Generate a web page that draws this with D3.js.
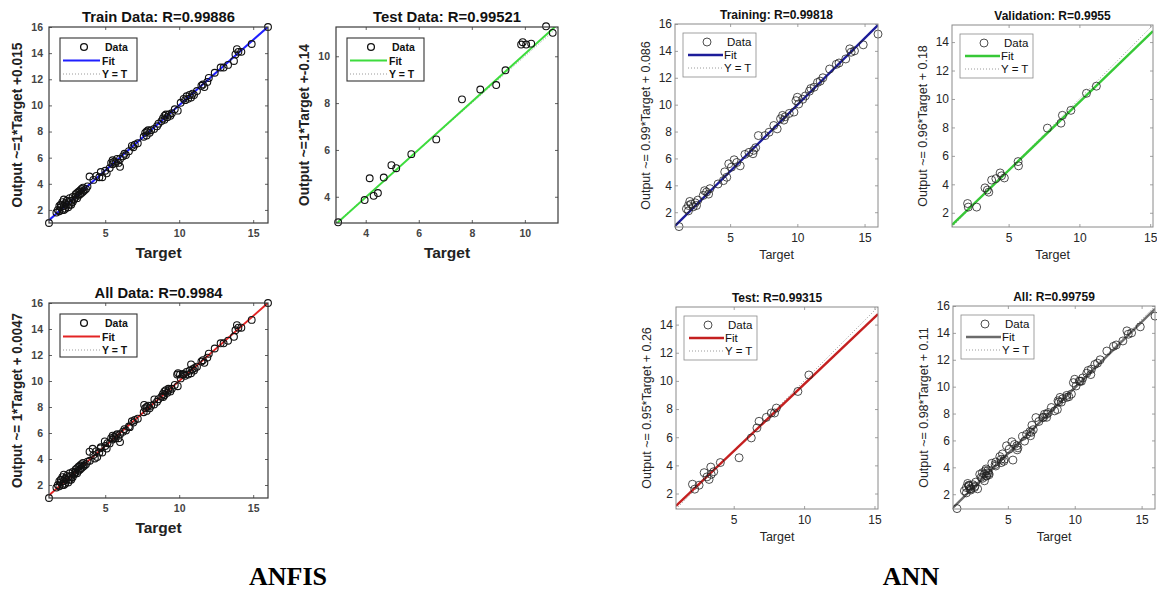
<!DOCTYPE html>
<html><head><meta charset="utf-8">
<script src="https://cdn.jsdelivr.net/npm/d3@7"></script>
<style>body{margin:0;background:#fff;} svg{display:block;background:#fff}</style>
</head><body><svg id="c" width="1157" height="592"></svg>
<script>
// ---------------- DATA (target, output) ----------------
const anfisTrainPts = [
 [1.2,1.0],[1.7,1.8],[1.8,2.0],[1.9,1.9],[2.0,2.2],[2.0,2.4],[2.1,2.0],[2.1,2.6],[2.2,2.3],[2.2,2.8],
 [2.3,2.1],[2.3,2.5],[2.4,2.4],[2.4,2.7],[2.5,2.2],[2.5,2.6],[2.6,2.9],[2.6,2.4],[2.7,2.7],[2.8,3.0],
 [2.8,2.6],[2.9,2.8],[3.0,3.0],[3.0,3.2],[3.1,2.9],[3.1,3.3],[3.2,3.1],[3.2,3.4],[3.3,3.2],[3.3,3.5],
 [3.4,3.3],[3.4,3.6],[3.5,3.4],[3.5,3.7],[3.6,3.5],[3.7,3.6],[3.8,3.8],[2.2,2.0],[1.9,2.3],[2.7,2.4],
 [3.94,4.56],[4.2,4.3],[4.4,4.6],[4.6,4.5],[4.7,4.9],[4.8,4.5],[5.0,5.0],[5.1,4.8],
 [5.3,5.2],[5.4,5.6],[5.5,5.5],[5.5,5.8],[5.6,5.7],[5.7,5.6],[5.8,5.9],[5.9,5.6],[6.0,5.3],[6.0,5.9],
 [6.2,6.1],[6.3,6.3],[6.4,6.2],[6.6,6.5],[6.8,6.9],[6.9,6.8],[7.0,7.0],[7.2,7.1],
 [7.6,7.6],[7.7,7.9],[7.8,8.0],[7.8,7.7],[7.9,8.1],[8.0,7.9],[8.1,8.1],[8.3,8.2],[8.5,8.4],[8.6,8.6],
 [8.8,8.8],[8.9,9.0],[9.0,9.2],[9.0,8.9],[9.1,9.3],[9.2,9.1],[9.3,9.3],[9.4,9.2],[9.5,9.4],[9.7,9.7],[9.9,9.6],
 [10.1,10.2],[10.3,10.5],[10.4,10.4],[10.5,10.7],[10.6,10.5],[10.7,10.8],[10.8,10.6],[10.9,10.9],[11.0,10.8],[11.2,11.1],
 [11.5,11.5],[11.6,11.6],[11.7,11.4],[11.9,11.8],[12.0,12.1],[12.4,12.5],[12.8,12.9],[13.0,12.9],[13.3,13.1],
 [13.7,13.4],[13.8,13.9],[13.9,14.3],[14.0,14.1],[14.2,14.1],[14.9,14.7],[16.0,16.0]
];
const anfisTestPts = [
 [2.96,2.91],[3.96,3.86],[4.15,4.79],[4.3,4.04],[4.46,4.16],[4.68,4.82],[4.97,5.35],[5.15,5.22],
 [5.72,5.82],[6.66,6.45],[7.63,8.16],[8.32,8.58],[8.92,8.77],[9.27,9.4],[9.86,10.5],[9.92,10.6],
 [10.05,10.5],[10.24,10.54],[10.8,11.28],[11.05,11.0]
];
const annTrainPts = [
 [1.2,0.93],[1.75,2.25],[1.9,2.5],[2.0,2.8],[2.1,2.6],[2.25,2.4],[2.4,2.7],[2.5,2.5],[2.6,2.9],[1.9,2.1],
 [3.0,3.25],[3.25,3.5],[3.5,3.75],[3.1,3.6],[3.4,3.35],
 [4.1,4.1],[4.5,4.35],[4.6,5.0],[4.75,4.6],[4.9,5.6],[5.1,5.35],[5.3,5.9],[5.5,5.7],[5.75,5.45],
 [6.1,6.3],[6.4,6.45],[6.75,6.6],[6.9,6.8],[6.7,6.35],
 [7.1,7.7],[7.6,7.7],[7.9,7.95],[8.25,8.45],[8.5,8.2],
 [8.75,8.95],[8.9,9.2],[9.0,8.85],[9.1,9.1],[9.4,9.35],[9.75,9.45],
 [9.9,10.3],[10.0,10.55],[10.1,10.05],[10.4,10.4],[10.6,10.65],[10.9,11.0],[11.0,11.2],[11.25,11.3],
 [11.5,11.65],[11.7,11.75],[11.9,12.0],
 [12.4,12.65],[12.9,13.0],[13.1,13.1],[13.6,13.4],[13.9,14.15],[14.0,13.9],[14.25,14.0],[14.9,14.45],[16.0,15.25]
];
const annValPts = [
 [2.1,2.65],[2.15,2.4],[2.74,2.4],[3.33,3.75],[3.5,3.6],[3.6,3.45],[3.8,4.3],[4.1,4.4],[4.4,4.8],
 [4.5,4.6],[4.7,4.45],[5.67,5.6],[5.7,5.3],[7.74,7.95],[8.7,8.3],[8.8,8.85],[9.4,9.2],[10.5,10.4],[11.2,10.9]
];
const annTestPts = [
 [2.07,2.66],[2.23,2.31],[2.54,2.59],[2.9,3.48],[3.1,3.18],[3.25,3.0],[3.37,3.88],[3.58,3.55],[3.4,3.36],
 [4.05,4.2],[5.38,4.54],[6.25,5.95],[6.65,6.66],[6.8,7.13],[7.32,7.41],[7.67,7.72],[7.9,7.72],[8.03,8.07],
 [9.56,9.25],[10.34,10.42]
];
const anfisAllPts = anfisTrainPts.concat(anfisTestPts);
const annAllPts = annTrainPts.concat(annValPts, annTestPts);

const titles = ["Train Data: R=0.99886","Test Data: R=0.99521","All Data: R=0.9984",
  "Training: R=0.99818","Validation: R=0.9955","Test: R=0.99315","All: R=0.99759"];
const yLabels = ["Output ~=1*Target +0.015","Output ~=1*Target +-0.14","Output ~= 1*Target + 0.0047",
  "Output ~= 0.99*Target + 0.086","Output ~= 0.96*Target + 0.18","Output ~= 0.95*Target + 0.26","Output ~= 0.98*Target + 0.11"];
const fitSlope = [1.0, 1.02, 1.0, 0.99, 0.96, 0.95, 0.98];
const fitIntercept = [0.015, -0.1, 0.0047, 0.086, 0.18, 0.26, 0.11];
const xTicks = [[5,10,15],[4,6,8,10],[5,10,15],[5,10,15],[5,10,15],[5,10,15],[5,10,15]];
const yTicks = [[2,4,6,8,10,12,14,16],[4,6,8,10],[2,4,6,8,10,12,14,16],[2,4,6,8,10,12,14,16],
  [2,4,6,8,10,12,14],[2,4,6,8,10,12,14],[2,4,6,8,10,12,14,16]];
const xDomains = [[1.2,16],[2.88,11.25],[1.2,16],[0.9,16],[1,15.2],[0.9,15.25],[0.9,16]];
const yDomains = [[1,16],[2.88,11.25],[1,16],[0.9,16],[1,15.2],[0.9,15.25],[0.9,16]];
const pointSets = [anfisTrainPts, anfisTestPts, anfisAllPts, annTrainPts, annValPts, annTestPts, annAllPts];
const legendLabels = ["Data","Fit","Y = T"];
const groupLabels = ["ANFIS","ANN"];

// ---------------- LAYOUT / STYLE ----------------
const boxes = [
 {x:49,y:27,w:219,h:196},{x:336,y:27,w:222,h:196},{x:49,y:303,w:219,h:195},
 {x:675,y:24,w:203,h:203},{x:952,y:25,w:201,h:202},{x:676,y:307,w:202,h:202},{x:953,y:306,w:202,h:203}
];
const fitColors = ["#1f1fff","#3ddc3d","#e32424","#1c1c9a","#37c837","#c42020","#6b6b6b"];
const kind = ["anfis","anfis","anfis","ann","ann","ann","ann"];
const titleLen = [153,148,128,null,null,null,null];
const ylabLen = [165,162,175,null,null,null,null];

const svg = d3.select("#c");
const defs = svg.append("defs");
const FONT = "Liberation Sans, Arial, Helvetica, sans-serif";

boxes.forEach((b,i)=>{
  const A = kind[i]==="anfis";
  const g = svg.append("g");
  const x = d3.scaleLinear().domain(xDomains[i]).range([b.x, b.x+b.w]);
  const y = d3.scaleLinear().domain(yDomains[i]).range([b.y+b.h, b.y]);
  const cid = "clip"+i;
  defs.append("clipPath").attr("id",cid).append("rect").attr("x",b.x).attr("y",b.y).attr("width",b.w).attr("height",b.h);

  const frameCol = A ? "#3a3a3a" : "#8a8a8a";
  const tickCol = A ? "#444" : "#262626";
  const tl = 3;

  const bottom = d3.axisBottom(x).tickValues(xTicks[i]).tickSizeInner(-tl).tickSizeOuter(0).tickPadding(A?7:6);
  const left = d3.axisLeft(y).tickValues(yTicks[i]).tickSizeInner(-tl).tickSizeOuter(0).tickPadding(A?6:3);
  const top = d3.axisTop(x).tickValues(xTicks[i]).tickSizeInner(-tl).tickSizeOuter(0).tickFormat("");
  const right = d3.axisRight(y).tickValues(yTicks[i]).tickSizeInner(-tl).tickSizeOuter(0).tickFormat("");
  const axStyle = (sel)=>{
    sel.select(".domain").remove();
    sel.selectAll(".tick line").attr("stroke",frameCol).attr("stroke-width",0.8);
    sel.selectAll(".tick text").attr("fill",tickCol).style("font-family",FONT)
      .style("font-size", A? "10.5px":"12px").style("font-weight", A?"bold":"normal");
  };
  g.append("g").attr("transform",`translate(0,${b.y+b.h})`).call(bottom).call(axStyle);
  g.append("g").attr("transform",`translate(${b.x},0)`).call(left).call(axStyle);
  g.append("g").attr("transform",`translate(0,${b.y})`).call(top).call(axStyle);
  g.append("g").attr("transform",`translate(${b.x+b.w},0)`).call(right).call(axStyle);

  const plot = g.append("g").attr("clip-path",`url(#${cid})`);
  const xd = xDomains[i];
  plot.append("line").attr("x1",x(xd[0])).attr("y1",y(xd[0])).attr("x2",x(xd[1])).attr("y2",y(xd[1]))
    .attr("stroke","#9a9a9a").attr("stroke-width",1).attr("stroke-dasharray","1,2");
  plot.append("line").attr("x1",x(xd[0])).attr("y1",y(fitSlope[i]*xd[0]+fitIntercept[i]))
    .attr("x2",x(xd[1])).attr("y2",y(fitSlope[i]*xd[1]+fitIntercept[i]))
    .attr("stroke",fitColors[i]).attr("stroke-width",A?2:2.4);
  g.append("g").selectAll("circle").data(pointSets[i]).join("circle")
    .attr("cx",d=>x(d[0])).attr("cy",d=>y(d[1])).attr("r",A?3.4:4)
    .attr("fill","none").attr("stroke",A?"#111":"#222").attr("stroke-width",A?1.1:0.8);

  g.append("rect").attr("x",b.x).attr("y",b.y).attr("width",b.w).attr("height",b.h)
    .attr("fill","none").attr("stroke",frameCol).attr("stroke-width",A?1.2:1);

  const t = g.append("text").attr("x",b.x+b.w/2).attr("y",b.y-5).attr("text-anchor","middle")
    .style("font-family",FONT).style("font-weight","bold").style("font-size",A?"15px":"12px")
    .attr("fill","#111").text(titles[i]);
  if (titleLen[i]) t.attr("textLength",titleLen[i]).attr("lengthAdjust","spacingAndGlyphs");
  g.append("text").attr("x",b.x+b.w/2).attr("y",b.y+b.h+(A?35:32)).attr("text-anchor","middle")
    .style("font-family",FONT).style("font-weight",A?"bold":"normal").style("font-size",A?"15.5px":"12.5px")
    .attr("fill",A?"#222":"#262626").text("Target");
  const cx = b.x-(A?27:25), cy = b.y+b.h/2;
  const yl = g.append("text").attr("transform",`translate(${cx},${cy}) rotate(-90)`).attr("text-anchor","middle")
    .style("font-family",FONT).style("font-weight",A?"bold":"normal").style("font-size",A?"14px":"12.5px")
    .attr("fill",A?"#222":"#262626").text(yLabels[i]);
  if (ylabLen[i]) yl.attr("textLength",ylabLen[i]).attr("lengthAdjust","spacingAndGlyphs");

  const L = A ? {x:b.x+11,y:b.y+11,w:77,h:43,row:13.5,lx0:3,lx1:40,mx:24,tx:42,fs:"10.5px",fw:"bold"}
              : {x:b.x+8,y:b.y+9,w:73,h:44,row:13,lx0:5,lx1:40,mx:24,tx:41,fs:"11.5px",fw:"normal"};
  const lg = g.append("g").attr("transform",`translate(${L.x},${L.y})`);
  lg.append("rect").attr("width",L.w).attr("height",L.h).attr("fill","#fff")
    .attr("stroke",A?"#333":"#8a8a8a").attr("stroke-width",A?1.1:0.8);
  const r0 = 9;
  lg.append("circle").attr("cx",L.mx).attr("cy",r0).attr("r",A?3.4:4).attr("fill","none")
    .attr("stroke",A?"#111":"#222").attr("stroke-width",A?1.3:0.8);
  lg.append("line").attr("x1",L.lx0).attr("x2",L.lx1).attr("y1",r0+L.row).attr("y2",r0+L.row)
    .attr("stroke",fitColors[i]).attr("stroke-width",A?2:2.4);
  lg.append("line").attr("x1",L.lx0).attr("x2",L.lx1).attr("y1",r0+2*L.row).attr("y2",r0+2*L.row)
    .attr("stroke","#9a9a9a").attr("stroke-width",1).attr("stroke-dasharray","1,2");
  legendLabels.forEach((s,k)=>{
    lg.append("text").attr("x",k===0?L.tx+3:L.tx).attr("y",r0+k*L.row+4).text(s)
      .style("font-family",FONT).style("font-size",L.fs).style("font-weight",L.fw).attr("fill","#111");
  });
});

const gx = [288, 911];
groupLabels.forEach((s,k)=>{
  svg.append("text").attr("x",gx[k]).attr("y",585).attr("text-anchor","middle")
    .style("font-family","Liberation Serif, Times New Roman, serif").style("font-weight","bold")
    .style("font-size","26px").attr("fill","#000").text(s);
});
</script></body></html>
